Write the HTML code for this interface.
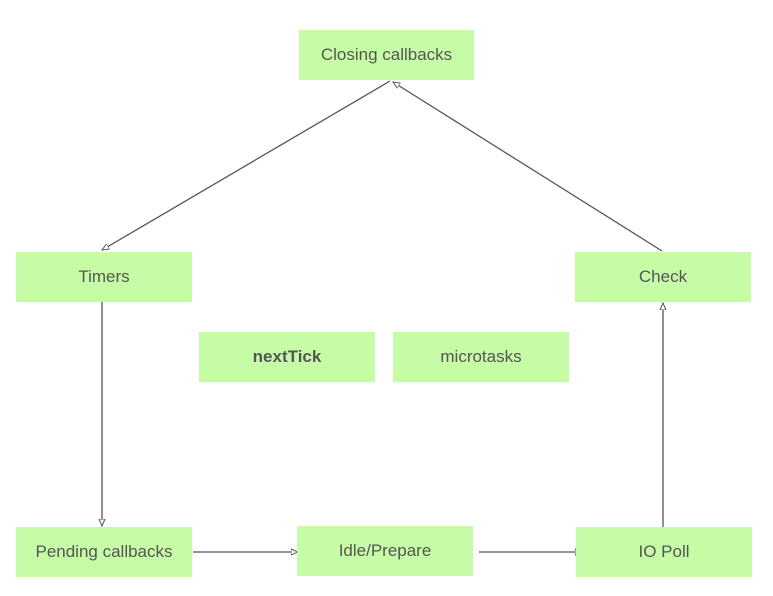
<!DOCTYPE html>
<html><head><style>
html,body{margin:0;padding:0;background:#fff;width:773px;height:596px;overflow:hidden;position:relative;font-family:"Liberation Sans",sans-serif}
.b{position:absolute;background:#c7fca6;color:#555;font-size:17px;display:flex;align-items:center;justify-content:center;height:50px;width:176px}
svg{position:absolute;left:0;top:0}
</style></head><body>
<svg width="773" height="596">
<defs><marker id="a" markerWidth="8" markerHeight="8" refX="7" refY="4" orient="auto" markerUnits="userSpaceOnUse"><path d="M0,1 L7,4 L0,7 Z" fill="#fff" stroke="#555" stroke-width="1"/></marker></defs>
<g stroke="#555" stroke-width="1.3" fill="none">
<line x1="390" y1="81" x2="102" y2="250" marker-end="url(#a)"/>
<line x1="662" y1="251" x2="393" y2="82" marker-end="url(#a)"/>
<line x1="102" y1="302" x2="102" y2="526" marker-end="url(#a)"/>
<line x1="663" y1="527" x2="663" y2="303" marker-end="url(#a)"/>
<line x1="193" y1="552" x2="298" y2="552" marker-end="url(#a)"/>
<line x1="479" y1="552" x2="582" y2="552" marker-end="url(#a)"/>
</g></svg>
<div class="b" style="left:299px;top:30px;width:175px">Closing callbacks</div>
<div class="b" style="left:16px;top:252px">Timers</div>
<div class="b" style="left:575px;top:252px">Check</div>
<div class="b" style="left:199px;top:332px;font-weight:bold">nextTick</div>
<div class="b" style="left:393px;top:332px">microtasks</div>
<div class="b" style="left:16px;top:527px">Pending callbacks</div>
<div class="b" style="left:297px;top:526px">Idle/Prepare</div>
<div class="b" style="left:576px;top:527px">IO Poll</div>
</body></html>
